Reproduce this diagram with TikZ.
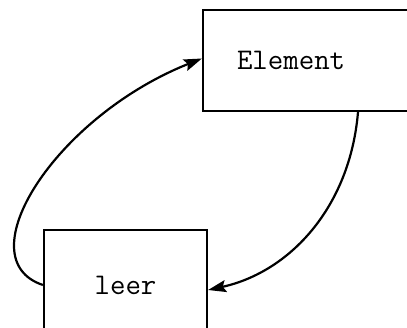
\documentclass[tikz,border=0pt]{standalone}
\usepackage{tikz}
\usetikzlibrary{calc,arrows.meta}

\begin{document}
\begin{tikzpicture}[x=1pt,y=1pt,line width=2.2pt,>={Stealth[length=18pt,width=12pt,inset=3pt]}]
    \tikzstyle{box}=[draw,rectangle,inner sep=0pt,font=\fontsize{30}{36}\ttfamily]
    \tikzstyle{link}=[->]

    \useasboundingbox (0,0) rectangle (407,327);

    % the two boxes (both run off the edge of the page)
    \node[box,minimum width=207pt,minimum height=101pt,text width=139pt,inner xsep=34pt,align=left] (E) at (306.5,266.5) {Element};
    \node[box,minimum width=163pt,minimum height=110pt] (L) at (125.5,42) {leer};

    % leer -> Element
    \draw[link] (L.west) .. controls (-35,68) and (55,210) .. ([yshift=2pt]E.west);

    % Element -> leer
    \draw[link] ([xshift=51.5pt]E.south) .. controls (350,120) and (290,55) .. ([yshift=-5pt]L.east);
\end{tikzpicture}
\end{document}
